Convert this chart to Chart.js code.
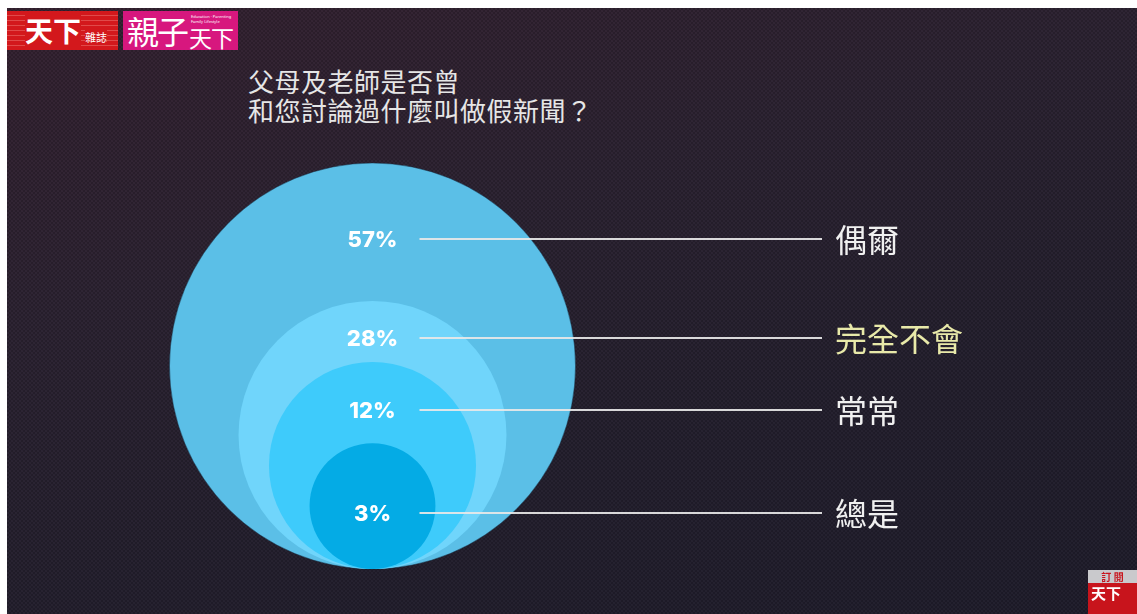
<!DOCTYPE html>
<html lang="zh-TW">
<head>
<meta charset="UTF-8">
<title>父母及老師是否曾和您討論過什麼叫做假新聞？</title>
<script src="https://cdn.jsdelivr.net/npm/chart.js@4.4.0/dist/chart.umd.min.js"></script>
<style>
    html, body { margin: 0; padding: 0; }
    body {
        width: 1137px;
        height: 614px;
        overflow: hidden;
        background: #ffffff;
        position: relative;
        font-family: 'Noto Sans CJK TC', 'Noto Sans', sans-serif;
    }
    .panel {
        position: absolute;
        left: 7px; top: 8px; right: 0; bottom: 0;
        background-color: #241f2c;
        background-image:
            repeating-conic-gradient(rgba(0,0,0,0.10) 0 25%, rgba(255,255,255,0.02) 0 50%),
            linear-gradient(165deg, #33202f 0%, #2a2130 35%, #221e2c 70%, #1e1c2a 100%);
        background-size: 4px 4px, 100% 100%;
    }
    .chart-box {
        position: absolute;
        left: 0; top: 0;
        width: 1137px; height: 614px;
    }
    .title {
        position: absolute;
        left: 248px; top: 66px;
        color: #e6e6e6;
        font-size: 26px;
        line-height: 29px;
        letter-spacing: 0.5px;
    }
    .logo {
        position: absolute;
        top: 11px; height: 39px;
        color: #fff;
        white-space: nowrap;
    }
    .logo-tw {
        left: 7px; width: 111px;
        background: repeating-linear-gradient(180deg, #d3181c 0 4px, #e04a4a 4px 5px);
        background-color: #d3181c;
    }
    .logo-tw .big {
        position: absolute; left: 18px; top: 2px;
        font-size: 28px; font-weight: 700; line-height: 34px;
        background: #d3181c;
    }
    .logo-tw .small {
        position: absolute; left: 78px; top: 19px;
        font-size: 11px; line-height: 14px;
        background: #d3181c;
    }
    .logo-pz {
        left: 123px; width: 115px;
        background: #d7177e;
    }
    .logo-pz .big {
        position: absolute; left: 4px; top: 0;
        font-size: 32px; line-height: 38px; letter-spacing: -2px;
    }
    .logo-pz .mid {
        position: absolute; left: 66px; top: 13px;
        font-size: 23px; line-height: 26px; letter-spacing: -1px;
    }
    .logo-pz .tiny {
        position: absolute; left: 68px; top: 3px;
        font-size: 4px; line-height: 5px; font-family: 'Noto Sans', sans-serif;
    }
    .corner {
        position: absolute; left: 1088px; top: 570px; width: 49px; height: 44px;
        background: #c8141c;
    }
    .corner .sub {
        height: 13px; background: #c9c9cc; color: #c8141c;
        font-size: 10px; line-height: 13px; text-align: center; font-weight: 700;
    }
    .corner .nm {
        color: #fff; font-size: 15px; line-height: 20px; padding-left: 3px; font-weight: 700;
    }
</style>
</head>
<body>
<div class="panel"></div>

<div class="logo logo-tw"><span class="big">天下</span><span class="small">雜誌</span></div>
<div class="logo logo-pz"><span class="big">親子</span><span class="tiny">Education · Parenting<br>Family Lifestyle</span><span class="mid">天下</span></div>

<div class="title">父母及老師是否曾<br>和您討論過什麼叫做假新聞？</div>

<div class="chart-box"><canvas id="circles" width="1137" height="614"></canvas></div>

<div class="corner"><div class="sub">訂 閱</div><div class="nm">天下</div></div>

<script>
// answers, from the outer circle to the inner one
const categories = ['偶爾', '完全不會', '常常', '總是'];
const percents = [57, 28, 12, 3];
// circle diameters as drawn, in y-axis units (outer circle = 100)
const circleDiameter = [100, 66, 51, 31];

const circleColors = ['#5bbfe7', '#70d5fb', '#3ecbfb', '#04abe5'];
const labelColors = ['#f0f0f0', '#e8e9a9', '#f0f0f0', '#f0f0f0'];

const yPx = (chart, v) => chart.scales.y.getPixelForValue(v);

const ringLabels = {
    id: 'ringLabels',
    afterDatasetsDraw(chart) {
        const ctx = chart.ctx;
        const cx = chart.scales.x.getPixelForValue(0);
        const right = chart.chartArea.right;
        ctx.save();
        percents.forEach((p, i) => {
            const top = yPx(chart, circleDiameter[i]);
            const nextTop = yPx(chart, i + 1 < circleDiameter.length ? circleDiameter[i + 1] : 0);
            const y = Math.round((top + nextTop) / 2 + 7);

            ctx.fillStyle = '#ffffff';
            ctx.font = '800 22px Inter, "Open Sans", sans-serif';
            ctx.textAlign = 'center';
            ctx.textBaseline = 'middle';
            ctx.fillText(p + '%', cx, y + 1);

            ctx.strokeStyle = 'rgba(232,232,232,0.92)';
            ctx.lineWidth = 2;
            ctx.beginPath();
            ctx.moveTo(cx + 47, y);
            ctx.lineTo(right + 247, y);
            ctx.stroke();

            ctx.fillStyle = labelColors[i];
            ctx.font = '400 32px "Noto Sans CJK TC", sans-serif';
            ctx.textAlign = 'left';
            ctx.fillText(categories[i], right + 260, y + 1);
        });
        ctx.restore();
    }
};

const chart = new Chart(document.getElementById('circles'), {
    type: 'bubble',
    data: {
        datasets: [{
            data: circleDiameter.map(d => ({ x: 0, y: d / 2, r: 1 })),
            backgroundColor: circleColors,
            borderColor: ['rgba(20,40,60,0.45)', 'rgba(0,0,0,0)', 'rgba(0,0,0,0)', 'rgba(0,0,0,0)'],
            borderWidth: 1,
            clip: false
        }]
    },
    options: {
        responsive: false,
        animation: false,
        events: [],
        layout: { autoPadding: false, padding: { left: 170, right: 562, top: 163, bottom: 45 } },
        plugins: { legend: { display: false }, tooltip: { enabled: false } },
        scales: {
            x: { display: false, min: -50, max: 50 },
            y: { display: false, min: 0, max: 100 }
        }
    },
    plugins: [ringLabels]
});

// bubble radius in pixels = half diameter measured on the y scale
chart.data.datasets[0].data.forEach((pt, i) => {
    pt.r = Math.abs(yPx(chart, 0) - yPx(chart, circleDiameter[i] / 2));
});
chart.update();
</script>
</body>
</html>
